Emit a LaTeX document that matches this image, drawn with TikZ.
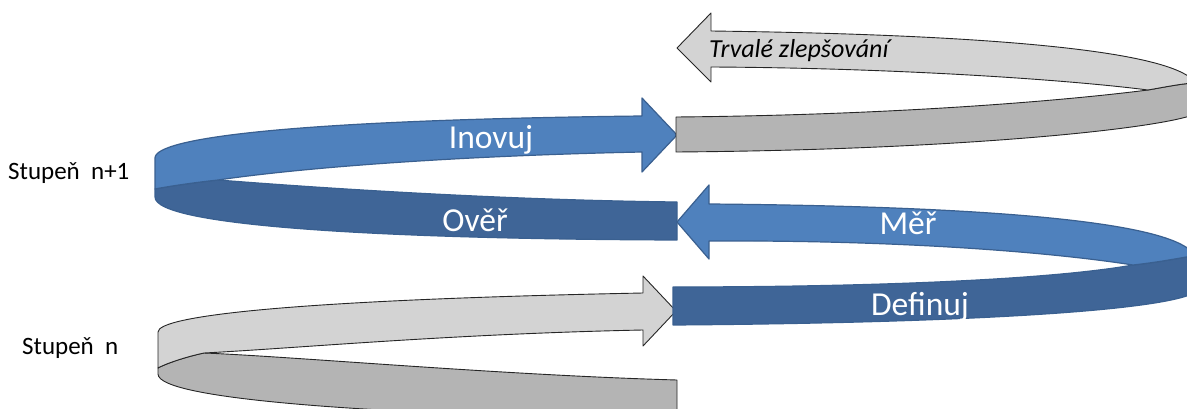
\documentclass[tikz,border=0pt]{standalone}
\usepackage{fontspec}
\setmainfont{Carlito}
\definecolor{blueLight}{HTML}{4F81BD}
\definecolor{blueDark}{HTML}{3F6597}
\definecolor{blueLine}{HTML}{3A6090}
\definecolor{grayLight}{HTML}{D3D3D3}
\definecolor{grayDark}{HTML}{B4B4B4}
\definecolor{grayLine}{HTML}{262626}
\tikzset{
  bluetop/.style={fill=blueLight, draw=blueLine, line width=1.2pt, line join=round},
  bluebottom/.style={fill=blueDark, draw=blueLine, line width=1.2pt, line join=round},
  graytop/.style={fill=grayLight, draw=grayLine, line width=0.9pt, line join=round},
  graybottom/.style={fill=grayDark, draw=grayLine, line width=0.9pt, line join=round},
  bandlabel/.style={text=white, font=\fontsize{33.5}{36}\selectfont, anchor=base, inner sep=0pt},
  stagelabel/.style={text=black, font=\fontsize{25}{27}\selectfont, anchor=base west, inner sep=0pt},
  looplabel/.style={text=black, font=\itshape\fontsize{26}{28}\selectfont, anchor=base west, inner sep=0pt}
}
\begin{document}
\begin{tikzpicture}[x=1pt, y=-1pt]
\useasboundingbox (0,0) rectangle (1187,409);
\clip (0,0) rectangle (1187,409);

% --- stage n: grey coil on the left ---
\path[graybottom] (158,368) .. controls (165,364) and (185,357) .. (204,353)
  .. controls (300,357) and (500,375) .. (677,380)
  -- (677,420)
  .. controls (380,415) and (158,400) .. (158,374) -- cycle;
\path[graytop] (158,332) .. controls (158,316) and (290,300) .. (643,293)
  -- (643,276) -- (676,311) -- (643,346) -- (643,330)
  .. controls (450,334) and (300,348) .. (204,353)
  .. controls (185,357) and (165,364) .. (158,368) -- cycle;

% --- stage n+1: blue coil on the right (Definuj -> Měř) ---
\path[bluebottom] (673,287) .. controls (900,287) and (1060,278) .. (1133,265)
  .. controls (1160,262) and (1180,258) .. (1192,256)
  -- (1192,294)
  .. controls (1150,312) and (950,323) .. (673,325) -- cycle;
\path[bluetop] (709,204) .. controls (950,206) and (1160,218) .. (1192,252)
  -- (1192,256) .. controls (1180,258) and (1160,262) .. (1133,265)
  .. controls (1050,252) and (900,240) .. (709,241)
  -- (709,259) -- (677,222) -- (709,185) -- cycle;

% --- stage n+1: blue coil on the left (Ověř -> Inovuj) ---
\path[bluebottom] (155,189) .. controls (165,187) and (190,183) .. (218,180)
  .. controls (320,188) and (500,200) .. (677,202)
  -- (677,240)
  .. controls (380,239) and (155,226) .. (155,197) -- cycle;
\path[bluetop] (155,158) .. controls (155,138) and (290,120) .. (642,116)
  -- (642,98) -- (677,135) -- (642,172) -- (642,152)
  .. controls (450,156) and (300,168) .. (218,180)
  .. controls (190,183) and (165,187) .. (155,189) -- cycle;

% --- continuing grey coil on the right ---
\path[graybottom] (676,117) .. controls (900,115) and (1070,100) .. (1148,90)
  .. controls (1165,87) and (1180,84) .. (1193,83)
  -- (1193,115)
  .. controls (1150,130) and (950,150) .. (676,152) -- cycle;
\path[graytop] (711,31) .. controls (950,34) and (1160,47) .. (1193,80)
  -- (1193,83) .. controls (1180,84) and (1165,87) .. (1148,90)
  .. controls (1070,80) and (900,68) .. (711,67)
  -- (711,82) -- (677,48) -- (711,13) -- cycle;

% --- labels ---
\node[bandlabel] (inovuj) at (491,149) {Inovuj};
\node[bandlabel] (overit) at (475,231) {Ověř};
\node[bandlabel] (merit) at (908,234) {Měř};
\node[bandlabel] (definuj) at (920,315) {Definuj};
\node[looplabel] (trvale) at (709,58) {Trvalé zlepšování};
\node[stagelabel] (stupenA) at (8,180) {Stupeň~~n+1};
\node[stagelabel] (stupenB) at (22,354) {Stupeň~~n};
\end{tikzpicture}
\end{document}
